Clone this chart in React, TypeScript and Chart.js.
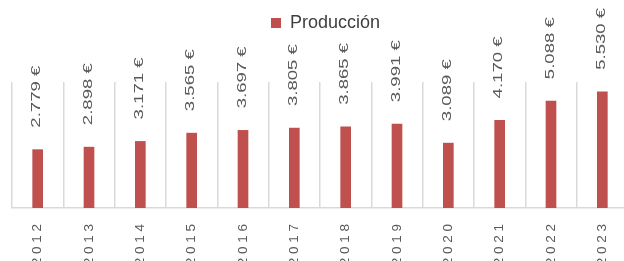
import React, { useEffect, useRef } from "react";
import { Chart, registerables } from "chart.js";

Chart.register(...registerables);

const years = ["2012", "2013", "2014", "2015", "2016", "2017", "2018", "2019", "2020", "2021", "2022", "2023"];
const produccion = [2779, 2898, 3171, 3565, 3697, 3805, 3865, 3991, 3089, 4170, 5088, 5530];
const seriesName = "Producción";

const FONT = "'Liberation Sans', Arial, sans-serif";

function formatEuro(n: number): string {
  const s = String(Math.round(n));
  return s.replace(/\B(?=(\d{3})+(?!\d))/g, ".") + " €";
}

const valueLabels = {
  id: "valueLabels",
  afterDatasetsDraw(chart: any) {
    const ctx = chart.ctx as CanvasRenderingContext2D;
    const meta = chart.getDatasetMeta(0);
    const data = chart.data.datasets[0].data as number[];
    ctx.save();
    ctx.font = `13px ${FONT}`;
    ctx.fillStyle = "#595959";
    ctx.textAlign = "left";
    ctx.textBaseline = "middle";
    meta.data.forEach((el: any, i: number) => {
      ctx.save();
      ctx.translate(el.x - 1, el.y - 22);
      ctx.rotate(-Math.PI / 2);
      ctx.scale(1.43, 1);
      ctx.fillText(formatEuro(data[i]), 0, 0);
      ctx.restore();
    });
    ctx.restore();
  },
};

export default function App() {
  const ref = useRef<HTMLCanvasElement | null>(null);
  useEffect(() => {
    if (!ref.current) return;
    const chart = new Chart(ref.current, {
      type: "bar",
      data: {
        labels: years,
        datasets: [
          {
            label: seriesName,
            data: produccion,
            backgroundColor: "#C0504D",
            borderWidth: 0,
            barThickness: 10,
          },
        ],
      },
      options: {
        responsive: false,
        animation: false,
        layout: { padding: { left: 12, right: 0, top: 4, bottom: 0 } },
        plugins: {
          legend: {
            display: true,
            position: "top",
            labels: {
              boxWidth: 10,
              boxHeight: 10,
              padding: 10,
              color: "#404040",
              font: { family: FONT, size: 18 },
            },
          },
          tooltip: { enabled: false },
        },
        scales: {
          x: {
            type: "category",
            position: "bottom",
            grid: { display: true, color: "#D9D9D9", lineWidth: 1.5, drawTicks: false, offset: true },
            border: { display: true, color: "#D9D9D9", width: 1.5 },
            ticks: {
              autoSkip: false,
              minRotation: 90,
              maxRotation: 90,
              padding: 16,
              color: "#595959",
              font: { family: FONT, size: 13.5 },
              callback: function (this: any, v: any) {
                return String(this.getLabelForValue(v)).split("").join(" ");
              },
            },
            afterFit(s: any) {
              s.height = 53;
            },
          },
          xTop: {
            type: "category",
            position: "top",
            display: true,
            grid: { display: false },
            border: { display: false },
            ticks: { display: false },
            afterFit(s: any) {
              s.height = 40;
            },
          },
          y: {
            position: "right",
            min: 0,
            max: 6000,
            display: true,
            grid: { display: false },
            border: { display: false },
            ticks: { display: false },
            afterFit(s: any) {
              s.width = 11;
            },
          },
        },
      },
      plugins: [valueLabels],
    });
    return () => chart.destroy();
  }, []);
  return (
    <div style={{ position: "fixed", left: 0, top: 0, width: 639, height: 261, background: "#fff" }}>
      <canvas ref={ref} width={639} height={261} style={{ width: 639, height: 261, display: "block" }} />
    </div>
  );
}
